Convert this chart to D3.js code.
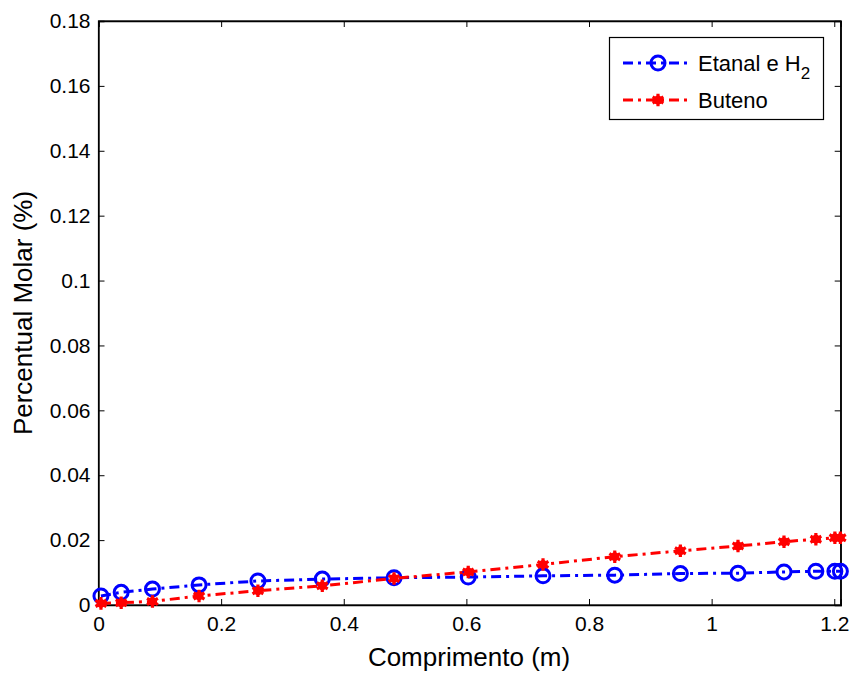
<!DOCTYPE html>
<html><head><meta charset="utf-8">
<script src="https://cdn.jsdelivr.net/npm/d3@7"></script>
<style>body{margin:0;background:#fff;} text{font-family:"Liberation Sans",Arial,sans-serif;}</style>
</head><body><svg id="c" width="851" height="673"></svg>
<script>
const xPos = [0.004, 0.037, 0.088, 0.164, 0.260, 0.365, 0.482, 0.603, 0.725, 0.842, 0.949, 1.043, 1.118, 1.170, 1.201, 1.210];
const etanal = [0.0028, 0.0039, 0.0049, 0.0062, 0.0074, 0.0080, 0.0084, 0.0086, 0.0090, 0.0092, 0.0097, 0.0098, 0.0102, 0.0104, 0.0104, 0.0104];
const buteno = [0.0005, 0.0007, 0.0011, 0.0028, 0.0044, 0.0059, 0.0082, 0.0102, 0.0125, 0.0149, 0.0167, 0.0182, 0.0195, 0.0203, 0.0207, 0.0207];
const xTicks = [0, 0.2, 0.4, 0.6, 0.8, 1, 1.2];
const yTicks = [0, 0.02, 0.04, 0.06, 0.08, 0.1, 0.12, 0.14, 0.16, 0.18];
const seriesNames = ["Etanal e H", "Buteno"];

const svg = d3.select("#c");
const L = 98.5, R = 840.7, T = 21, B = 605;
const x = d3.scaleLinear().domain([0, 1.2105]).range([L, R]);
const y = d3.scaleLinear().domain([0, 0.18]).range([B, T]);

const fmt = d => (d === 0 ? "0" : String(+d.toFixed(2)));

svg.append("rect").attr("x", L).attr("y", T).attr("width", R - L).attr("height", B - T)
  .attr("fill", "#fff").attr("stroke", "#000").attr("stroke-width", 1.2);

const xAxB = svg.append("g").attr("transform", `translate(0,${B})`)
  .call(d3.axisBottom(x).tickValues(xTicks).tickSize(-6).tickPadding(11).tickFormat(fmt));
const xAxT = svg.append("g").attr("transform", `translate(0,${T})`)
  .call(d3.axisTop(x).tickValues(xTicks).tickSize(-6).tickFormat(""));
const yAxL = svg.append("g").attr("transform", `translate(${L},0)`)
  .call(d3.axisLeft(y).tickValues(yTicks).tickSize(-6).tickPadding(8).tickFormat(fmt));
const yAxR = svg.append("g").attr("transform", `translate(${R},0)`)
  .call(d3.axisRight(y).tickValues(yTicks).tickSize(-6).tickFormat(""));
[xAxB, xAxT, yAxL, yAxR].forEach(g => {
  g.select(".domain").attr("stroke", "#000").attr("stroke-width", 1.4);
  g.selectAll(".tick line").attr("stroke", "#000").attr("stroke-width", 1);
  g.selectAll("text").attr("font-size", 21).attr("fill", "#000")
    .style("font-family", '"Liberation Sans",Arial,sans-serif');
});

svg.append("text").attr("x", 469).attr("y", 666).attr("text-anchor", "middle")
  .attr("font-size", 26).text("Comprimento (m)");
svg.append("text").attr("transform", `translate(32,${(T + B) / 2}) rotate(-90)`)
  .attr("text-anchor", "middle").attr("font-size", 26).text("Percentual Molar (%)");

const dash = "10,5,3,5";
const line = d3.line().x(d => x(d[0])).y(d => y(d[1]));
const blueData = xPos.map((v, i) => [v, etanal[i]]);
const redData = xPos.map((v, i) => [v, buteno[i]]);

function star(g, cx, cy) {
  g.append("path").attr("transform", `translate(${cx},${cy})`)
    .attr("d", d3.symbol(d3.symbolAsterisk, 110)())
    .attr("stroke", "#ff0000").attr("stroke-width", 3.2).attr("fill", "none");
  g.append("circle").attr("cx", cx).attr("cy", cy).attr("r", 4.5).attr("fill", "#ff0000");
}
function circ(g, cx, cy) {
  g.append("circle").attr("cx", cx).attr("cy", cy).attr("r", 7)
    .attr("fill", "none").attr("stroke", "#0000ff").attr("stroke-width", 3);
}

const plot = svg.append("g");
plot.append("path").datum(blueData).attr("d", line).attr("fill", "none")
  .attr("stroke", "#0000ff").attr("stroke-width", 3).attr("stroke-dasharray", dash);
blueData.forEach(d => circ(plot, x(d[0]), y(d[1])));
plot.append("path").datum(redData).attr("d", line).attr("fill", "none")
  .attr("stroke", "#ff0000").attr("stroke-width", 3).attr("stroke-dasharray", dash);
redData.forEach(d => star(plot, x(d[0]), y(d[1])));

const lg = svg.append("g");
lg.append("rect").attr("x", 609.5).attr("y", 37.5).attr("width", 214).attr("height", 82)
  .attr("fill", "#fff").attr("stroke", "#000").attr("stroke-width", 1.2);
const ly = [63, 100];
lg.append("line").attr("x1", 623).attr("x2", 692).attr("y1", ly[0]).attr("y2", ly[0])
  .attr("stroke", "#0000ff").attr("stroke-width", 3).attr("stroke-dasharray", dash);
circ(lg, 658, ly[0]);
lg.append("line").attr("x1", 623).attr("x2", 692).attr("y1", ly[1]).attr("y2", ly[1])
  .attr("stroke", "#ff0000").attr("stroke-width", 3).attr("stroke-dasharray", dash);
star(lg, 658, ly[1]);
const t1 = lg.append("text").attr("x", 698).attr("y", ly[0] + 8).attr("font-size", 22);
t1.append("tspan").text(seriesNames[0]);
t1.append("tspan").attr("font-size", 17).attr("dy", 8).text("2");
lg.append("text").attr("x", 698).attr("y", ly[1] + 8).attr("font-size", 22).text(seriesNames[1]);
</script></body></html>
